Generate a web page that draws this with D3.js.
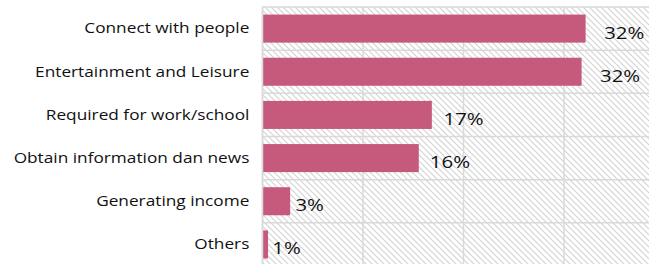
<!DOCTYPE html>
<html>
<head>
<meta charset="utf-8">
<script src="https://cdn.jsdelivr.net/npm/d3@7"></script>
<style>
  body { margin: 0; background: #fff; }
  svg text { font-family: "Open Sans", "Noto Sans", sans-serif; fill: #111; }
</style>
</head>
<body>
<script>
const categories = ['Connect with people', 'Entertainment and Leisure', 'Required for work/school',
  'Obtain information dan news', 'Generating income', 'Others'];
const values = [32.2, 31.8, 16.9, 15.6, 2.8, 0.6];
const valueLabels = ['32%', '32%', '17%', '16%', '3%', '1%'];
const xTicks = [0, 10, 20, 30, 40];

const width = 649, height = 264;
const svg = d3.select('body').append('svg')
    .attr('width', width)
    .attr('height', height);

const x = d3.scaleLinear().domain([0, 40]).range([262, 664]);
const y = d3.scaleBand().domain(categories).range([7, 266])
    .paddingInner(0.35).paddingOuter(0.175);

// hatch pattern for the plot area
const pat = svg.append('defs').append('pattern')
    .attr('id', 'hatch')
    .attr('width', 6).attr('height', 6)
    .attr('patternUnits', 'userSpaceOnUse');
pat.append('path')
    .attr('d', 'M-1,-1 L7,7 M-1,5 L1,7 M5,-1 L7,1')
    .attr('stroke', '#d3d3d3')
    .attr('stroke-width', 1.2);

svg.append('rect')
    .attr('x', x(0)).attr('y', 7)
    .attr('width', x(40) - x(0)).attr('height', 266 - 7)
    .attr('fill', 'url(#hatch)');

// vertical gridlines
svg.append('g')
    .attr('transform', 'translate(0,7)')
    .call(d3.axisBottom(x).tickValues(xTicks).tickSize(259).tickFormat(''))
    .call(g => g.select('.domain').remove())
    .call(g => g.selectAll('line').attr('stroke', '#d9d9d9').attr('stroke-width', 1.5));

// horizontal gridlines at band boundaries
const step = y.step();
const bounds = d3.range(categories.length + 1).map(i => 7 + i * step);
svg.append('g').selectAll('line')
    .data(bounds)
    .enter()
    .append('line')
    .attr('x1', x(0)).attr('x2', width)
    .attr('y1', d => d).attr('y2', d => d)
    .attr('stroke', '#d9d9d9')
    .attr('stroke-width', 1.5);

// bars
svg.selectAll('rect.bar')
    .data(values)
    .enter()
    .append('rect')
    .attr('class', 'bar')
    .attr('x', x(0))
    .attr('y', (d, i) => y(categories[i]))
    .attr('width', d => x(d) - x(0))
    .attr('height', y.bandwidth())
    .attr('fill', '#c55a7c');

// value labels (source text is stretched horizontally)
const sx = 1.2;
svg.selectAll('text.val')
    .data(values)
    .enter()
    .append('text')
    .attr('class', 'val')
    .attr('transform', (d, i) => 'translate(' + (x(d * 1.045) + 4) + ',' +
        (y(categories[i]) + y.bandwidth() / 2 + 4) + ') scale(' + sx + ',1)')
    .attr('dy', '0.35em')
    .attr('font-size', 17)
    .text((d, i) => valueLabels[i]);

// category axis labels
svg.append('g')
    .attr('transform', 'translate(' + x(0) + ',0)')
    .call(d3.axisLeft(y).tickSize(0).tickPadding(11))
    .call(g => g.select('.domain').attr('stroke', '#d9d9d9').attr('stroke-width', 1.5))
    .call(g => g.selectAll('text')
        .attr('font-size', 15)
        .attr('fill', '#111')
        .attr('transform', 'scale(1.15,1)')
        .style('font-family', '"Open Sans", sans-serif'));
</script>
</body>
</html>
